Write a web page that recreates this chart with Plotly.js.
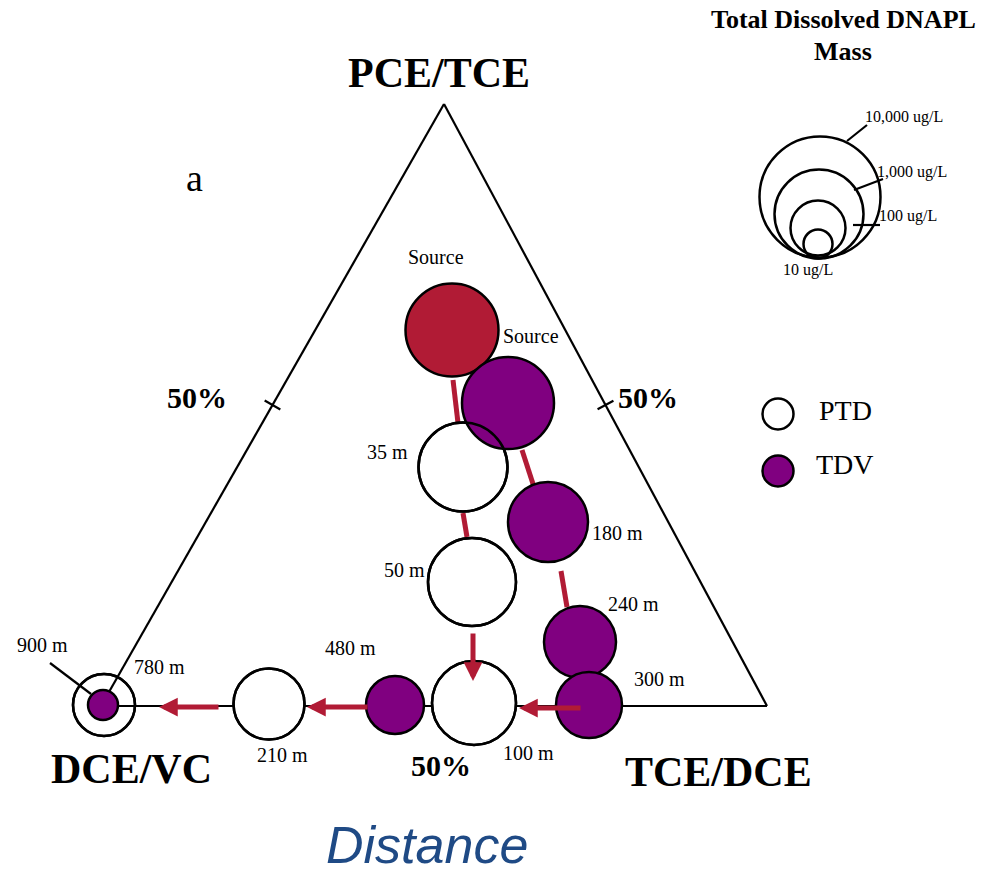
<!DOCTYPE html>
<html><head><meta charset="utf-8">
<script src="https://cdn.plot.ly/plotly-3.0.1.min.js"></script>
<style>html,body{margin:0;padding:0;background:#fff}#chart{width:985px;height:877px}</style>
</head><body><div id="chart"></div>
<script>
// ---- data (diagram units = page pixels) ----
const ptdLabels = ['35 m', '50 m', '100 m', '210 m', '780 m'];
const ptdX = [463, 472, 474, 269, 104];
const ptdY = [467, 582, 703, 704, 705];
const ptdSize = [89, 88, 84, 71, 62];

const sourceLabels = ['Source'];
const sourceX = [452];
const sourceY = [330];
const sourceSize = [93];

const tdvLabels = ['Source', '180 m', '240 m', '300 m', '480 m', '900 m'];
const tdvX = [508, 548, 580, 589, 395, 103];
const tdvY = [403, 522, 642, 705, 705, 705];
const tdvSize = [92, 80, 72, 66, 58, 30];

const keyLabels = ['10,000 ug/L', '1,000 ug/L', '100 ug/L', '10 ug/L'];
const keyX = [820, 819, 818, 818];
const keyY = [197, 214, 228, 244];
const keySize = [121, 89, 55, 29];

const legendLabels = ['PTD', 'TDV'];
const vertexLabels = ['PCE/TCE', 'DCE/VC', 'TCE/DCE'];

// ---- styling ----
const RED = '#B11B35', PURPLE = '#800080', OUT = 2.5;
const SERIF = 'Liberation Serif, Times New Roman, serif';

const V = {top: [444, 104], left: [101, 706], right: [767, 706]};

const shapes = [];
function seg(p, q, color, w) {
  shapes.push({type: 'line', xref: 'x', yref: 'y', x0: p[0], y0: p[1], x1: q[0], y1: q[1],
    line: {color: color, width: w}, layer: 'below'});
}
seg(V.top, V.left, '#000', 2.2);
seg(V.top, V.right, '#000', 2.2);
seg(V.left, V.right, '#000', 2.2);
// 50% ticks on sides
[[V.top, V.left], [V.top, V.right]].forEach(([a, b]) => {
  const m = [(a[0] + b[0]) / 2, (a[1] + b[1]) / 2];
  const dx = b[0] - a[0], dy = b[1] - a[1], L = Math.hypot(dx, dy);
  const px = -dy / L * 9, py = dx / L * 9;
  seg([m[0] - px, m[1] - py], [m[0] + px, m[1] + py], '#000', 2.2);
});
// leaders
seg([50, 663], [91, 694], '#000', 2.2);
seg([847, 141], [867, 125], '#000', 2.2);
seg([854, 190], [883, 179], '#000', 2.2);
seg([853, 225], [880, 225], '#000', 2.2);
// red connectors
seg([453, 380], [458, 423], RED, 5);
seg([463, 513], [467, 537], RED, 5);
seg([522, 450], [534, 487], RED, 5);
seg([561, 571], [567, 607], RED, 5);

const traces = [
  {x: ptdX, y: ptdY, text: ptdLabels, mode: 'markers', type: 'scatter', hoverinfo: 'none',
   marker: {size: ptdSize, opacity: 1, color: ptdLabels.map(l => l === '780 m' ? 'rgba(0,0,0,0)' : '#fff'),
            line: {color: '#000', width: OUT}}},
  {x: sourceX, y: sourceY, text: sourceLabels, mode: 'markers', type: 'scatter', hoverinfo: 'none',
   marker: {size: sourceSize, opacity: 1, color: RED, line: {color: '#000', width: OUT}}},
  {x: tdvX, y: tdvY, text: tdvLabels, mode: 'markers', type: 'scatter', hoverinfo: 'none',
   marker: {size: tdvSize, opacity: 1, color: PURPLE, line: {color: '#000', width: OUT}}},
  {x: ptdX, y: ptdY, mode: 'markers', type: 'scatter', hoverinfo: 'none',
   marker: {size: ptdSize, opacity: 1, color: 'rgba(0,0,0,0)', line: {color: '#000', width: OUT}}},
  {x: keyX, y: keyY, text: keyLabels, mode: 'markers', type: 'scatter', hoverinfo: 'none',
   marker: {size: keySize, opacity: 1, color: 'rgba(0,0,0,0)', line: {color: '#000', width: 2.5}}},
  {x: [778, 778], y: [414, 471], text: legendLabels, mode: 'markers', type: 'scatter', hoverinfo: 'none',
   marker: {size: 31, opacity: 1, color: ['#fff', PURPLE], line: {color: '#000', width: 2.5}}}
];

const ann = [];
function txt(t, x, y, size, opts) {
  ann.push(Object.assign({text: t, x: x, y: y, xref: 'x', yref: 'y', showarrow: false,
    xanchor: 'center', yanchor: 'middle', font: {family: SERIF, size: size, color: '#000'}}, opts || {}));
}
function bold(t, x, y, size) { txt('<b>' + t + '</b>', x, y, size); }

bold(vertexLabels[0], 439, 73, 42);
bold(vertexLabels[1], 131, 769, 42);
bold(vertexLabels[2], 718, 772, 42);
bold('50%', 197, 397, 30);
bold('50%', 648, 397, 30);
bold('50%', 441, 765, 30);
txt('a', 194, 178, 38);

// point labels
txt(sourceLabels[0], 436, 257, 20);
txt(tdvLabels[0], 531, 336, 20);
txt(ptdLabels[0], 387, 452, 20);
txt(tdvLabels[1], 617, 533, 20);
txt(ptdLabels[1], 404, 570, 20);
txt(tdvLabels[2], 633, 604, 20);
txt(tdvLabels[4], 350, 648, 20);
txt(tdvLabels[3], 659, 679, 20);
txt(ptdLabels[2], 528, 753, 20);
txt(ptdLabels[3], 282, 755, 20);
txt(ptdLabels[4], 159, 667, 20);
txt(tdvLabels[5], 42, 645, 20);

// size key
bold('Total Dissolved DNAPL', 843, 19, 26);
bold('Mass', 843, 51, 26);
txt(keyLabels[0], 904, 117, 16);
txt(keyLabels[1], 912, 172, 16);
txt(keyLabels[2], 908, 216, 16);
txt(keyLabels[3], 808, 270, 16);

// legend
txt(legendLabels[0], 845, 410, 28);
txt(legendLabels[1], 845, 464, 28);

// Distance
ann.push({text: '<i>Distance</i>', x: 427, y: 845, xref: 'x', yref: 'y', showarrow: false,
  xanchor: 'center', yanchor: 'middle',
  font: {family: 'Liberation Sans, Arial, sans-serif', size: 52, color: '#1F4A85'}});

// arrows
function arrow(tail, tip) {
  ann.push({x: tip[0], y: tip[1], ax: tail[0], ay: tail[1], xref: 'x', yref: 'y', axref: 'x', ayref: 'y',
    text: '', showarrow: true, arrowhead: 2, arrowsize: 0.75, arrowwidth: 5, arrowcolor: RED, standoff: 0});
}
arrow([473, 632], [473, 681]);
arrow([582, 708], [519, 708]);
arrow([369, 707], [307, 707]);
arrow([220, 707], [159, 707]);

const layout = {
  width: 985, height: 877, margin: {l: 0, r: 0, t: 0, b: 0},
  paper_bgcolor: '#fff', plot_bgcolor: '#fff', showlegend: false,
  xaxis: {range: [0, 985], visible: false, fixedrange: true},
  yaxis: {range: [877, 0], visible: false, fixedrange: true},
  shapes: shapes, annotations: ann
};
Plotly.newPlot('chart', traces, layout, {displayModeBar: false, staticPlot: true});
</script></body></html>
